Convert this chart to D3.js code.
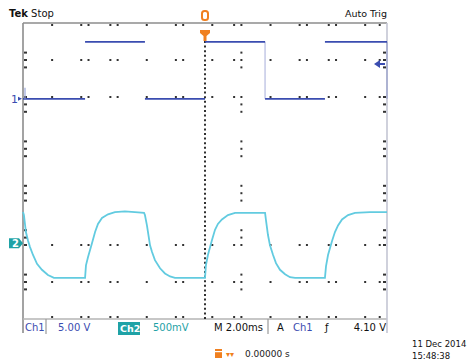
<!DOCTYPE html>
<html><head><meta charset="utf-8">
<script src="https://cdn.jsdelivr.net/npm/d3@7"></script>
<style>
html,body{margin:0;padding:0;background:#fff;}
svg{display:block;font-family:"DejaVu Sans",sans-serif;}
</style></head>
<body>
<script>
// ---------- data (time in ms relative to trigger, 2 ms/div) ----------
const ch1Levels = {low: 0, high: 7.7};           // volts, 5 V/div
const ch1Edges = [-10, -6.59, -3.30, 0, 3.30, 6.59, 10]; // segment boundaries
const ch1States = ["low","high","low","high","low","high"];
const ch1TrigLevel = 4.7;                         // volts (arrow marker)
const ch2Time = [-10.00,-9.95,-9.84,-9.73,-9.62,-9.45,-9.23,-8.96,-8.63,-8.30,-6.59,
  -6.54,-6.43,-6.21,-6.04,-5.88,-5.66,-5.33,-4.95,-4.40,-3.85,-3.35,
  -3.30,-3.19,-3.02,-2.91,-2.75,-2.47,-2.20,-1.92,-1.65,0.00,
  0.05,0.16,0.38,0.55,0.71,0.93,1.26,1.65,2.20,3.02,3.30,
  3.35,3.46,3.57,3.74,3.90,4.12,4.40,4.67,4.95,6.59,
  6.65,6.76,6.98,7.14,7.31,7.53,7.86,8.24,9.07,10.00];
const ch2Volts = [0.42,0.38,0.15,0.04,-0.05,-0.16,-0.28,-0.36,-0.43,-0.47,-0.47,
  -0.30,-0.19,0.00,0.15,0.26,0.34,0.39,0.42,0.43,0.42,0.41,
  0.38,0.24,-0.03,-0.12,-0.23,-0.34,-0.41,-0.45,-0.47,-0.47,
  -0.30,-0.16,0.04,0.18,0.26,0.32,0.38,0.41,0.41,0.41,0.41,
  0.31,0.11,-0.03,-0.16,-0.27,-0.36,-0.42,-0.46,-0.47,-0.47,
  -0.31,-0.16,0.03,0.15,0.24,0.32,0.38,0.41,0.42,0.42];
const ch1VoltsPerDiv = 5, ch2VoltsPerDiv = 0.5;
const ch1OffsetDiv = 1.95, ch2OffsetDiv = -1.95;
// graticule sub-division pattern as rendered on the screenshot
const xSubs = [0,4,8,9,12,13,17,21,22,25,26,29,30,34,38,39,42,43,47,49,50];
const ySubs = [0,4,5,6,10,11,12,16,17,18,22,23,24,28,29,30,34,35,36,40];
const topLeftText = "Tek Stop";
const topRightText = "Auto Trig";
const dateText = ["11 Dec 2014", "15:48:38"];

// ---------- layout ----------
const W = 468, H = 363;
const L = 23, R = 387, T = 23, B = 319;
const BLUE = "#3a4cb0", CYAN = "#62cbe0", TEAL = "#1fa2a6", ORANGE = "#f08020";

const x = d3.scaleLinear().domain([-10, 10]).range([L, R]);
const yDiv = d3.scaleLinear().domain([-4, 4]).range([B, T]);
const y1 = v => yDiv(ch1OffsetDiv + v / ch1VoltsPerDiv);
const y2 = v => yDiv(ch2OffsetDiv + v / ch2VoltsPerDiv);
const xs = d3.scaleLinear().domain([0, 50]).range([L, R]);
const ys = d3.scaleLinear().domain([0, 40]).range([T, B]);

const svg = d3.select("body").append("svg").attr("width", W).attr("height", H);

// frame
svg.append("line").attr("x1", L).attr("x2", L).attr("y1", T).attr("y2", B + 14).attr("stroke", "#8c8c8c").attr("stroke-width", 1.6);
svg.append("line").attr("x1", L).attr("x2", R).attr("y1", T).attr("y2", T).attr("stroke", "#8c8c8c").attr("stroke-width", 1.6);
svg.append("line").attr("x1", L).attr("x2", R).attr("y1", B).attr("y2", B).attr("stroke", "#b4b4b4").attr("stroke-width", 1.4);
svg.append("line").attr("x1", R).attr("x2", R).attr("y1", T).attr("y2", B + 14).attr("stroke", "#c4c6d4").attr("stroke-width", 1.6);

// graticule dots
const dots = [];
xSubs.forEach(i => ySubs.forEach(j => {
  if ((i % 5 === 0 || j % 5 === 0)) dots.push([i, j]);
}));
svg.append("g").selectAll("rect").data(dots.filter(d => d[0] !== 0 && d[0] !== 50 && d[0] !== 25 && d[1] !== 0 && d[1] !== 40))
  .join("rect").attr("x", d => xs(d[0]) - 1).attr("y", d => ys(d[1]) - 1)
  .attr("width", 2).attr("height", 2).attr("fill", "#333");
// edge ticks
const edgeG = svg.append("g").attr("fill", "#333");
ySubs.filter(j => j > 0 && j < 40).forEach(j => {
  edgeG.append("rect").attr("x", L + 1).attr("y", ys(j) - 1).attr("width", 3).attr("height", 2);
  edgeG.append("rect").attr("x", R - 4).attr("y", ys(j) - 1).attr("width", 3).attr("height", 2);
});
xSubs.filter(i => i > 0 && i < 50 && i !== 25).forEach(i => {
  edgeG.append("rect").attr("x", xs(i) - 1).attr("y", T + 1).attr("width", 2).attr("height", 2);
  edgeG.append("rect").attr("x", xs(i) - 1).attr("y", B - 3).attr("width", 2).attr("height", 2);
});
// center (trigger position) dashed line
svg.append("line").attr("x1", x(0)).attr("x2", x(0)).attr("y1", T + 18).attr("y2", B)
  .attr("stroke", "#1a1a1a").attr("stroke-width", 1.8).attr("stroke-dasharray", "2,2.6");

// CH1 trace
const segs = ch1States.map((s, i) => ({t0: ch1Edges[i], t1: ch1Edges[i + 1], v: ch1Levels[s]}));
svg.append("g").selectAll("line").data(segs).join("line")
  .attr("x1", d => x(d.t0)).attr("x2", d => x(d.t1))
  .attr("y1", d => y1(d.v)).attr("y2", d => y1(d.v))
  .attr("stroke", BLUE).attr("stroke-width", 1.8);
// faint edge at 3.30 ms and right border
svg.append("line").attr("x1", x(3.30)).attr("x2", x(3.30)).attr("y1", y1(ch1Levels.high)).attr("y2", y1(ch1Levels.low))
  .attr("stroke", BLUE).attr("stroke-opacity", 0.3).attr("stroke-width", 1.5);
svg.append("line").attr("x1", R).attr("x2", R).attr("y1", y1(ch1Levels.high)).attr("y2", y1(ch1Levels.low))
  .attr("stroke", BLUE).attr("stroke-opacity", 0.3).attr("stroke-width", 1.5);

// CH2 trace
const ch2 = ch2Time.map((t, i) => [t, ch2Volts[i]]);
svg.append("path").datum(ch2)
  .attr("d", d3.line().x(d => x(d[0])).y(d => y2(d[1])))
  .attr("fill", "none").attr("stroke", CYAN).attr("stroke-width", 1.8);

// channel markers
svg.append("text").attr("x", 11).attr("y", y1(0) + 4).attr("fill", BLUE).attr("font-size", 11).text("1");
svg.append("path").attr("d", `M18,${y1(0)-2} L22,${y1(0)} L18,${y1(0)+2}Z`).attr("fill", BLUE);
svg.append("line").attr("x1", 25).attr("x2", 25).attr("y1", y1(0) - 11).attr("y2", y1(0)).attr("stroke", "#9aa6d8").attr("stroke-width", 1.2);
const g2y = y2(0);
svg.append("path").attr("d", `M9,${g2y-5} L19,${g2y-5} L23,${g2y} L19,${g2y+5} L9,${g2y+5}Z`).attr("fill", TEAL);
svg.append("text").attr("x", 12).attr("y", g2y + 4).attr("fill", "#fff").attr("font-size", 10).attr("font-weight", "bold").text("2");
// trigger level arrow
const tl = y1(ch1TrigLevel);
svg.append("path").attr("d", `M374,${tl} L380,${tl-4} L380,${tl-1} L385,${tl-1} L385,${tl+1} L380,${tl+1} L380,${tl+4}Z`).attr("fill", BLUE);

// trigger position marker (top)
const tx = x(0);
svg.append("rect").attr("x", tx - 3).attr("y", 11).attr("width", 6).attr("height", 9).attr("rx", 2.5)
  .attr("fill", "none").attr("stroke", ORANGE).attr("stroke-width", 2);
svg.append("path").attr("d", `M${tx-5},30 L${tx+5},30 L${tx+5},33 L${tx+1.5},36 L${tx+1.5},41 L${tx-1.5},41 L${tx-1.5},36 L${tx-5},33Z`).attr("fill", ORANGE);

// top texts
svg.append("text").attr("x", 9).attr("y", 17).attr("font-size", 10).attr("fill", "#111")
  .html(`<tspan font-weight="bold">Tek</tspan> ${topLeftText.split(" ")[1]}`);
svg.append("text").attr("x", R).attr("y", 17).attr("font-size", 9.5).attr("text-anchor", "end").attr("fill", "#111").text(topRightText);

// bottom status row
const by = 331;
const fs = 10;
svg.append("line").attr("x1", 46).attr("x2", 46).attr("y1", B).attr("y2", B + 15).attr("stroke", "#999").attr("stroke-width", 1.2);
svg.append("line").attr("x1", 268).attr("x2", 268).attr("y1", B).attr("y2", B + 15).attr("stroke", "#999").attr("stroke-width", 1.2);
svg.append("text").attr("x", 25).attr("y", by).attr("font-size", fs).attr("fill", BLUE).text("Ch1");
svg.append("text").attr("x", 58).attr("y", by).attr("font-size", fs).attr("fill", BLUE).text("5.00 V");
svg.append("rect").attr("x", 118).attr("y", 322).attr("width", 22).attr("height", 13).attr("fill", TEAL);
svg.append("text").attr("x", 120).attr("y", by + 1).attr("font-size", 9.5).attr("fill", "#fff").attr("font-weight", "bold").text("Ch2");
svg.append("text").attr("x", 153).attr("y", by).attr("font-size", fs).attr("fill", TEAL).text("500mV");
svg.append("text").attr("x", 214).attr("y", by).attr("font-size", fs).attr("fill", "#111").text("M 2.00ms");
svg.append("text").attr("x", 277).attr("y", by).attr("font-size", fs).attr("fill", "#111").text("A");
svg.append("text").attr("x", 293).attr("y", by).attr("font-size", fs).attr("fill", BLUE).text("Ch1");
svg.append("text").attr("x", 325).attr("y", by).attr("font-size", fs).attr("fill", "#111").text("ƒ");
svg.append("text").attr("x", 386).attr("y", by).attr("font-size", fs).attr("text-anchor", "end").attr("fill", "#111").text("4.10 V");

// second row: trigger position readout
svg.append("rect").attr("x", 215).attr("y", 349).attr("width", 7).attr("height", 9).attr("fill", ORANGE);
svg.append("rect").attr("x", 215).attr("y", 351).attr("width", 7).attr("height", 1.2).attr("fill", "#fff");
svg.append("text").attr("x", 226).attr("y", 357).attr("font-size", 8).attr("fill", ORANGE).text("▾▾");
svg.append("text").attr("x", 245).attr("y", 357).attr("font-size", 9).attr("fill", "#222").text("0.00000 s");

// date / time
svg.append("text").attr("x", 412).attr("y", 347).attr("font-size", 8.5).attr("fill", "#111").text(dateText[0]);
svg.append("text").attr("x", 412).attr("y", 359).attr("font-size", 8.5).attr("fill", "#111").text(dateText[1]);
</script>
</body></html>
